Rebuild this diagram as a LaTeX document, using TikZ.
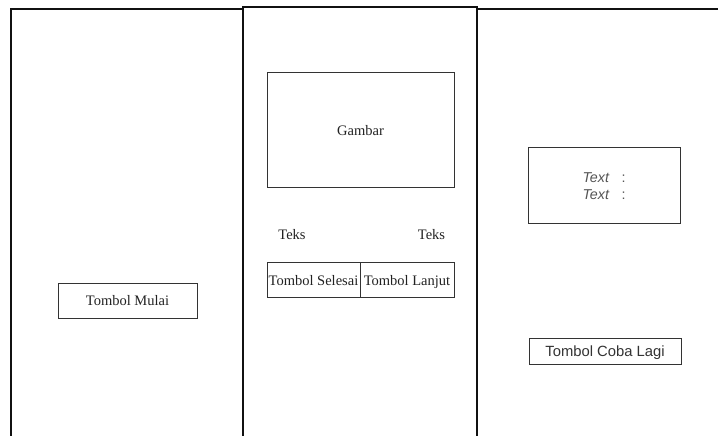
\documentclass[tikz,border=0pt]{standalone}
\usepackage{fontspec}
\setmainfont{Liberation Serif}
\newfontfamily\arialfont{Liberation Sans}
\definecolor{frameline}{HTML}{111111}
\definecolor{boxline}{HTML}{333333}
\definecolor{serifink}{HTML}{222222}
\definecolor{sansink}{HTML}{333333}
\definecolor{softink}{HTML}{555555}
\begin{document}
\begin{tikzpicture}[x=1bp,y=-1bp,
  frame/.style={draw=frameline, line width=1.3bp},
  uibox/.style={draw=boxline, line width=1bp, inner sep=0pt, fill=white},
  serif/.style={font=\fontsize{14.5bp}{17bp}\selectfont, text=serifink,
    text height=10bp, text depth=0pt},
  sans/.style={font=\arialfont\fontsize{14.8bp}{17bp}\selectfont, text=sansink,
    text height=10.5bp, text depth=0pt}]
\useasboundingbox (0,0) rectangle (718,436);
\fill[white] (0,0) rectangle (718,436);
% three screen panels, open at the bottom
\begin{scope}
\clip (0,0) rectangle (718,436);
\draw[frame] (11,440) -- (11,9) -- (243,9);
\draw[frame] (243,440) -- (243,7) -- (477,7) -- (477,440);
\draw[frame] (477,440) -- (477,9) -- (722,9);
\end{scope}
% start screen
\node[uibox, serif, minimum width=139bp, minimum height=34bp] (mulai) at (127.5,301) {Tombol Mulai};
% question screen
\node[uibox, serif, minimum width=187bp, minimum height=115bp] (gambar) at (360.5,130.5) {Gambar};
\node[serif] (teksL) at (292,235) {Teks};
\node[serif] (teksR) at (431.5,235) {Teks};
\node[uibox, serif, minimum width=93bp, minimum height=35bp] (selesai) at (313.5,280.5) {Tombol Selesai};
\node[uibox, serif, minimum width=94bp, minimum height=35bp] (lanjut) at (407,280.5) {Tombol Lanjut};
% result screen
\node[uibox, font=\arialfont\fontsize{14.3bp}{17bp}\selectfont, text=softink,
  minimum width=152bp, minimum height=76bp, align=center] (hasil) at (604,186)
  {\textit{Text}\hspace{12bp}:\\\textit{Text}\hspace{12bp}:};
\node[uibox, sans, minimum width=152bp, minimum height=26bp] (coba) at (605,351) {Tombol Coba Lagi};
\end{tikzpicture}
\end{document}
